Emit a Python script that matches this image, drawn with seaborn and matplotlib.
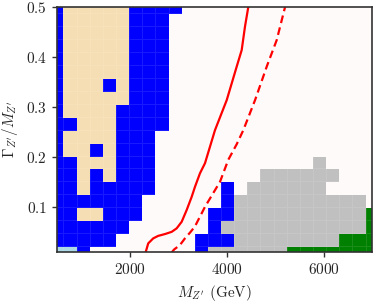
import numpy as np
import pandas as pd
import matplotlib
matplotlib.use("Agg")
import matplotlib.pyplot as plt
from matplotlib.colors import ListedColormap
import seaborn as sns

# scan grid (cell centres)
masses = np.linspace(500, 7000, 25)
widths = np.linspace(0.01, 0.5, 20)

# excluded regions per cell, top row first
# . allowed, B blue, W wheat, G grey, g green, L light blue
regions = [
    "BWWWWWBBBB...............",
    "BWWWWWBBB................",
    "BWWWWWBBB................",
    "BWWWWWBBB................",
    "BWWWWWBBB................",
    "BWWWWWBBB................",
    "BWWWBWBBB................",
    "BWWWWWBBB................",
    "BWWWWBBBB................",
    "BBWWWBBBB................",
    "BWWWWBBB.................",
    "BWWBWBBB.................",
    "BBWWWBBB............G....",
    "BBWBWBBB........GGGGGG...",
    "BBWBBBBB.....B.GGGGGG....",
    "BBBBBBB......BGGGGGGGGGG.",
    "BBWWBBB.....BBGGGGGGGGGGg",
    "BBBBBB......BGGGGGGGGGGGg",
    "BBBBB......BBBGGGGGGGGggg",
    "LLB........BGGGGGGggggggg",
]
codes = ".BWGgL"
colors = ["#fffafa", "#0000ff", "#f5deb3", "#c0c0c0", "#008000", "#add8e6"]

# red exclusion contours
solid_mass = [2330, 2384, 2487, 2590, 2728, 2867, 2970, 3073, 3176, 3280, 3348,
              3451, 3554, 3760, 4002, 4208, 4311, 4379, 4447]
solid_width = [0.01, 0.028, 0.038, 0.043, 0.0466, 0.051, 0.058, 0.071, 0.0945,
               0.121, 0.141, 0.168, 0.188, 0.254, 0.314, 0.381, 0.414, 0.461, 0.50]
dashed_mass = [2867, 2920, 3037, 3141, 3250, 3348, 3554, 3864, 4035, 4208, 4344,
               4586, 4827, 5033, 5205]
dashed_width = [0.01, 0.016, 0.0246, 0.038, 0.05, 0.062, 0.101, 0.151, 0.195,
                0.226, 0.254, 0.314, 0.381, 0.434, 0.50]

sns.set_style("ticks")
plt.rcParams["font.family"] = "serif"
plt.rcParams["font.serif"] = ["cmr10"]
plt.rcParams["mathtext.fontset"] = "cm"
plt.rcParams["axes.formatter.use_mathtext"] = True
plt.rcParams["axes.unicode_minus"] = False

fig = plt.figure(figsize=(3.74, 3.03), dpi=100)
ax = fig.add_axes([0.152, 0.167, 0.843, 0.81])

Z = np.array([[codes.index(c) for c in row] for row in regions[::-1]])
ax.pcolormesh(masses, widths, Z, cmap=ListedColormap(colors), vmin=-0.5, vmax=5.5,
              shading="nearest", edgecolors=(1, 1, 1, 0.1), linewidth=0.5)

solid = pd.DataFrame({"M": solid_mass, "w": solid_width})
dashed = pd.DataFrame({"M": dashed_mass, "w": dashed_width})
sns.lineplot(data=solid, x="M", y="w", sort=False, color="red", lw=1.6, ax=ax)
sns.lineplot(data=dashed, x="M", y="w", sort=False, color="red", lw=1.6,
             linestyle=(0, (3.5, 2)), ax=ax)

ax.set_xlim(500, 7000)
ax.set_ylim(0.01, 0.5)
ax.set_xticks([2000, 4000, 6000])
ax.set_yticks([0.1, 0.2, 0.3, 0.4, 0.5])
ax.tick_params(labelsize=11, length=3.5, width=1, color="#333333")
for s in ax.spines.values():
    s.set_linewidth(1.2)
    s.set_color("#333333")
ax.set_xlabel(r"$M_{Z'}$ (GeV)", fontsize=11)
ax.set_ylabel(r"$\Gamma_{Z'}/M_{Z'}$", fontsize=11)

fig.savefig("out.png", dpi=100)
